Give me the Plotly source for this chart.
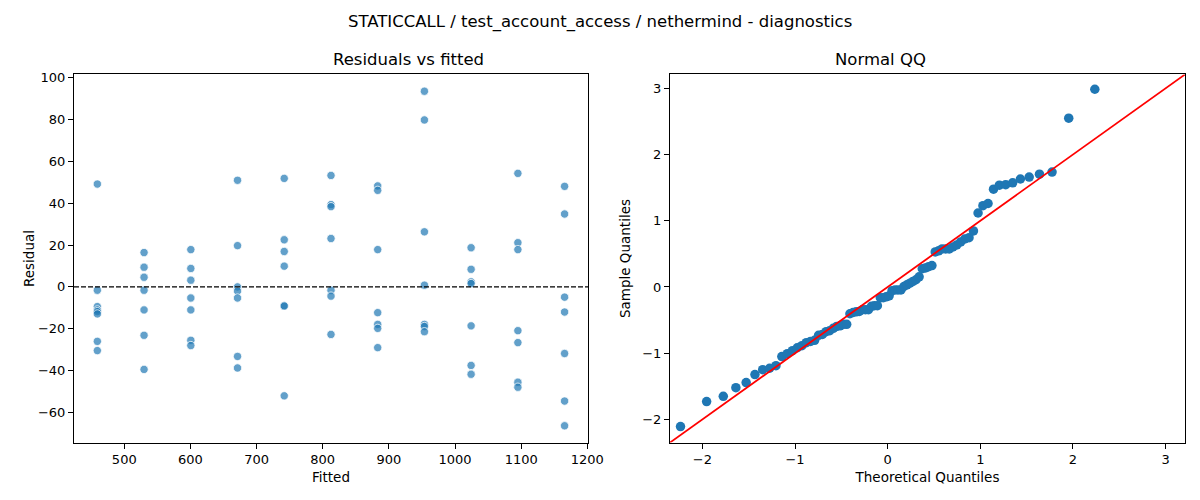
"""
Residual diagnostics: residuals vs fitted + normal QQ.
"""
from statistics import NormalDist

import numpy as np
import plotly.graph_objects as go

TITLE = "STATICCALL / test_account_access / nethermind - diagnostics"

# fitted levels (one per group) and the residuals
fitted_levels = [459.3, 529.9, 600.6, 671.2, 741.8, 812.5, 883.1, 953.7, 1024.3, 1095.0, 1165.6]
residual_groups = [
    [49.1, -1.6, -9.4, -11.0, -11.8, -12.9, -26.0, -30.4],
    [16.4, 9.4, 4.6, -1.6, -11.0, -23.1, -39.4],
    [17.8, 8.8, 3.2, -5.3, -11.0, -25.5, -28.0],
    [50.9, 19.7, 0.0, -2.0, -5.3, -33.2, -38.7],
    [51.8, 22.5, 16.9, 9.9, -9.1, -9.1, -52.0],
    [53.2, 39.3, 38.3, 23.1, -1.6, -4.4, -22.7],
    [48.2, 46.1, 17.8, -12.3, -17.9, -19.8, -29.0],
    [93.4, 79.7, 26.3, 0.8, -17.9, -18.9, -21.4],
    [18.7, 8.4, 2.4, 1.6, -18.6, -37.5, -41.7],
    [54.2, 21.1, 17.8, -20.9, -26.6, -45.5, -47.9],
    [48.0, 34.8, -4.9, -12.0, -31.8, -54.5, -66.3],
]

fitted = []
residuals = []
for lvl, grp in zip(fitted_levels, residual_groups):
    fitted += [lvl] * len(grp)
    residuals += grp

# QQ: standardized residuals against normal quantiles at i/(n+1)
res = np.array(residuals)
sample_q = np.sort((res - res.mean()) / res.std())
n = len(sample_q)
theo_q = np.array([NormalDist().inv_cdf(i / (n + 1)) for i in range(1, n + 1)])

qq_lim = [-2.35, 3.21]


# the page body has an 8px margin and the figure fills the remaining width
def px_x(p):
    return (p - 8) / 1184


def px_y(p):
    return 1 - (p - 8) / 500


left_dom = [px_x(74), px_x(588)]
right_dom = [px_x(670), px_x(1185)]
y_dom = [px_y(442), px_y(71)]

fig = go.Figure()

fig.add_trace(go.Scatter(
    x=fitted, y=residuals, mode="markers",
    marker=dict(size=8.3, color="rgba(31,119,180,0.7)",
                line=dict(color="white", width=0.75)),
    xaxis="x", yaxis="y", showlegend=False,
))
fig.add_trace(go.Scatter(
    x=[424, 1201], y=[0, 0], mode="lines",
    line=dict(color="black", width=1.1, dash="5px,2px"),
    xaxis="x", yaxis="y", showlegend=False,
))

fig.add_trace(go.Scatter(
    x=theo_q, y=sample_q, mode="markers",
    marker=dict(size=9.5, color="#1f77b4"),
    xaxis="x2", yaxis="y2", showlegend=False,
))
fig.add_trace(go.Scatter(
    x=qq_lim, y=qq_lim, mode="lines",
    line=dict(color="red", width=1.8),
    xaxis="x2", yaxis="y2", showlegend=False,
))

axis_style = dict(
    showline=True, mirror=True, linecolor="black", linewidth=1,
    ticks="outside", ticklen=5, tickcolor="black", showgrid=False,
    zeroline=False, tickfont=dict(size=13, color="black"),
    title_font=dict(size=13.5, color="black"),
)

fig.update_layout(
    width=1200, height=500,
    margin=dict(l=0, r=0, t=0, b=0),
    plot_bgcolor="white", paper_bgcolor="white",
    font=dict(family="DejaVu Sans", color="black"),
    xaxis=dict(domain=left_dom, range=[424, 1201], dtick=100,
               title=dict(text="Fitted", standoff=6), **axis_style),
    yaxis=dict(domain=y_dom, range=[-74.3, 101.4], dtick=20,
               title=dict(text="Residual", standoff=0), **axis_style),
    xaxis2=dict(domain=right_dom, range=qq_lim, dtick=1, anchor="y2",
                title=dict(text="Theoretical Quantiles", standoff=6), **axis_style),
    yaxis2=dict(domain=y_dom, range=qq_lim, dtick=1, anchor="x2",
                title=dict(text="Sample Quantiles", standoff=8), **axis_style),
    annotations=[
        dict(text=TITLE, x=px_x(600), y=px_y(18), xref="paper", yref="paper",
             showarrow=False, font=dict(size=16.5), yanchor="middle"),
        dict(text="Residuals vs fitted", x=sum(left_dom) / 2, y=px_y(56),
             xref="paper", yref="paper", showarrow=False,
             font=dict(size=16.5), yanchor="middle"),
        dict(text="Normal QQ", x=sum(right_dom) / 2, y=px_y(56),
             xref="paper", yref="paper", showarrow=False,
             font=dict(size=16.5), yanchor="middle"),
    ],
)

fig.write_html("out.html")
